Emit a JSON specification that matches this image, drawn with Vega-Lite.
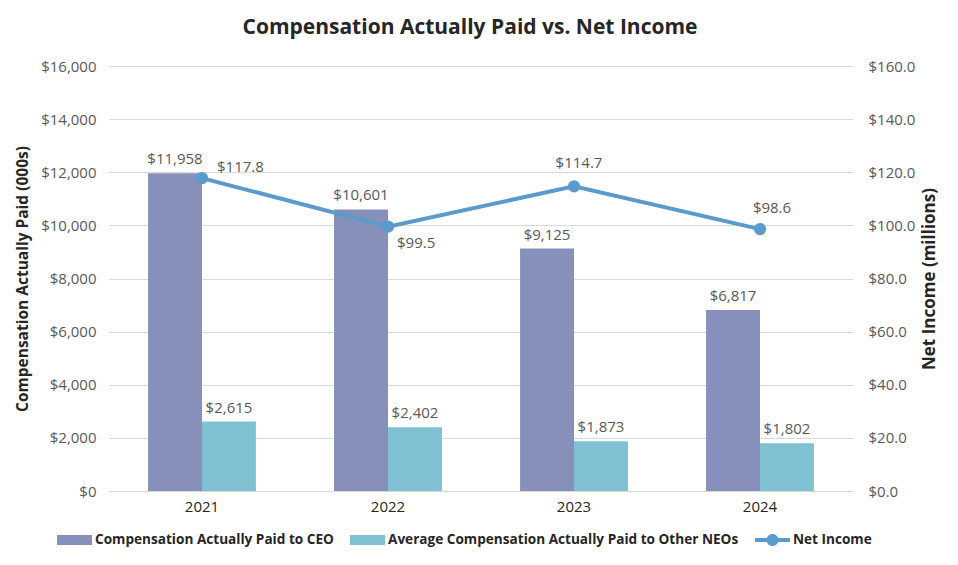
{
  "$schema": "https://vega.github.io/schema/vega-lite/v6.json",
  "autosize": {"type": "none"},
  "width": 744,
  "height": 425,
  "padding": {"left": 109, "top": 66, "right": 105, "bottom": 74},
  "background": "white",
  "config": {
    "font": "Open Sans",
    "view": {"stroke": null},
    "axis": {"labelFont": "Open Sans", "titleFont": "Open Sans", "labelFontSize": 15, "labelColor": "#595959", "titleFontSize": 16, "titleFontWeight": "bold", "titleColor": "#262626", "domain": false, "ticks": false},
    "title": {"font": "Open Sans", "fontSize": 21, "fontWeight": "bold", "color": "#262626"}
  },
  "title": {"text": "Compensation Actually Paid vs. Net Income", "anchor": "middle", "dx": -11, "offset": 21},
  "datasets": {
    "bars": [
      {"year": "2021", "series": "Compensation Actually Paid to CEO", "value": 11958},
      {"year": "2021", "series": "Average Compensation Actually Paid to Other NEOs", "value": 2615},
      {"year": "2022", "series": "Compensation Actually Paid to CEO", "value": 10601},
      {"year": "2022", "series": "Average Compensation Actually Paid to Other NEOs", "value": 2402},
      {"year": "2023", "series": "Compensation Actually Paid to CEO", "value": 9125},
      {"year": "2023", "series": "Average Compensation Actually Paid to Other NEOs", "value": 1873},
      {"year": "2024", "series": "Compensation Actually Paid to CEO", "value": 6817},
      {"year": "2024", "series": "Average Compensation Actually Paid to Other NEOs", "value": 1802}
    ],
    "ni": [
      {"year": "2021", "series": "Net Income", "ni": 117.8},
      {"year": "2022", "series": "Net Income", "ni": 99.5},
      {"year": "2023", "series": "Net Income", "ni": 114.7},
      {"year": "2024", "series": "Net Income", "ni": 98.6}
    ]
  },
  "encoding": {
    "x": {"field": "year", "type": "nominal", "scale": {"paddingInner": 0.42, "paddingOuter": 0.21}, "axis": {"title": null, "labelAngle": 0, "labelColor": "#262626", "labelPadding": 8}}
  },
  "layer": [
    {
      "data": {"name": "bars"},
      "encoding": {
        "xOffset": {"field": "series", "type": "nominal", "sort": ["Compensation Actually Paid to CEO", "Average Compensation Actually Paid to Other NEOs"], "scale": {"paddingInner": 0, "paddingOuter": 0}},
        "y": {"field": "value", "type": "quantitative", "scale": {"domain": [0, 16000]}, "axis": {"title": "Compensation Actually Paid (000s)", "titleFontSize": 15.5, "values": [0, 2000, 4000, 6000, 8000, 10000, 12000, 14000, 16000], "format": "$,.0f", "grid": true, "gridColor": "#d9d9d9", "labelPadding": 13, "titlePadding": 10}}
      },
      "layer": [
        {
          "mark": {"type": "bar"},
          "encoding": {
            "color": {"field": "series", "type": "nominal", "scale": {"domain": ["Compensation Actually Paid to CEO", "Average Compensation Actually Paid to Other NEOs", "Net Income"], "range": ["#8690BA", "#7FC1D3", "#5A9BCB"]},
              "legend": {
                "title": null, "orient": "none", "direction": "horizontal", "legendX": -52, "legendY": 456,
                "labelFont": "Open Sans", "labelFontSize": 13.6, "labelFontWeight": "bold", "labelColor": "#262626", "labelOffset": 3, "columnPadding": 16, "labelLimit": 0,
                "symbolSize": 1225, "symbolType": "M-1,-0.2857L1,-0.2857L1,0.2857L-1,0.2857Z",
                "encode": {"symbols": {"update": {
                  "shape": {"signal": "datum.value === 'Net Income' ? 'M-1,-0.114L-0.324,-0.114A0.343,0.343 0 0,1 0.324,-0.114L1,-0.114L1,0.114L0.324,0.114A0.343,0.343 0 0,1 -0.324,0.114L-1,0.114Z' : 'M-1,-0.2857L1,-0.2857L1,0.2857L-1,0.2857Z'"},
                  "fill": {"scale": "color", "field": "value"},
                  "fillOpacity": {"value": 1},
                  "strokeWidth": {"value": 0}
                }}}
              }
            }
          }
        },
        {
          "mark": {"type": "text", "baseline": "bottom", "dy": -6, "fontSize": 15, "color": "#595959"},
          "encoding": {"text": {"field": "value", "type": "quantitative", "format": "$,.0f"}}
        }
      ]
    },
    {
      "data": {"name": "ni"},
      "encoding": {
        "y": {"field": "ni", "type": "quantitative", "scale": {"domain": [0, 160]}, "axis": {"orient": "right", "title": "Net Income (millions)", "titleAngle": 270, "titleFontSize": 17, "values": [0, 20, 40, 60, 80, 100, 120, 140, 160], "format": "$,.1f", "grid": false, "labelPadding": 15, "titlePadding": 24}}
      },
      "layer": [
        {
          "mark": {"type": "line", "strokeWidth": 4, "point": {"filled": true, "size": 150}},
          "encoding": {"color": {"field": "series", "type": "nominal"}}
        },
        {
          "transform": [{"filter": "datum.year === '2021'"}],
          "mark": {"type": "text", "align": "left", "baseline": "middle", "dx": 15, "dy": -11, "fontSize": 15, "color": "#595959"},
          "encoding": {"text": {"field": "ni", "type": "quantitative", "format": "$,.1f"}}
        },
        {
          "transform": [{"filter": "datum.year === '2022'"}],
          "mark": {"type": "text", "align": "left", "baseline": "middle", "dx": 9, "dy": 16, "fontSize": 15, "color": "#595959"},
          "encoding": {"text": {"field": "ni", "type": "quantitative", "format": "$,.1f"}}
        },
        {
          "transform": [{"filter": "datum.year === '2023'"}],
          "mark": {"type": "text", "align": "center", "baseline": "middle", "dx": 5, "dy": -23, "fontSize": 15, "color": "#595959"},
          "encoding": {"text": {"field": "ni", "type": "quantitative", "format": "$,.1f"}}
        },
        {
          "transform": [{"filter": "datum.year === '2024'"}],
          "mark": {"type": "text", "align": "center", "baseline": "middle", "dx": 12, "dy": -21, "fontSize": 15, "color": "#595959"},
          "encoding": {"text": {"field": "ni", "type": "quantitative", "format": "$,.1f"}}
        }
      ]
    }
  ],
  "resolve": {"scale": {"y": "independent"}}
}
